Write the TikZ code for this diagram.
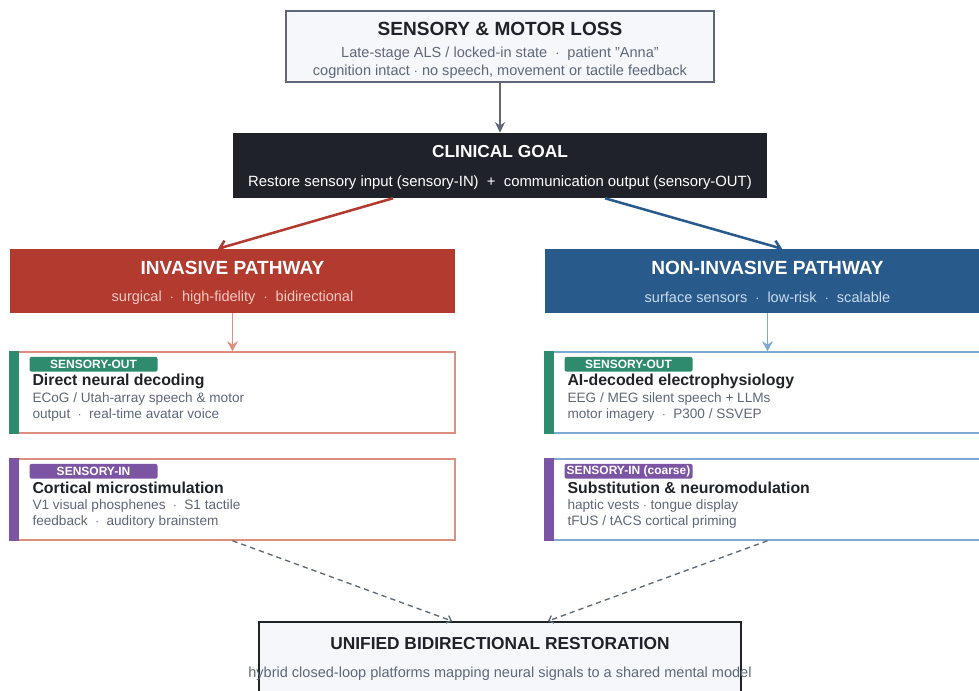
\documentclass[tikz,border=0pt]{standalone}
\usepackage{fontspec}
\setmainfont{Liberation Sans}[Ligatures=ResetAll]
\usetikzlibrary{arrows.meta,positioning}

\definecolor{ink}{HTML}{1F2329}
\definecolor{slate}{HTML}{5E6878}
\definecolor{paper}{HTML}{F5F7FA}
\definecolor{invred}{HTML}{B23A2F}
\definecolor{invpale}{HTML}{DE8E7E}
\definecolor{invtext}{HTML}{F3C9C3}
\definecolor{nonblue}{HTML}{285A8B}
\definecolor{nonpale}{HTML}{7FA8D2}
\definecolor{nontext}{HTML}{C9DCF0}
\definecolor{outgreen}{HTML}{2E8B6D}
\definecolor{inpurple}{HTML}{7B55A3}

\tikzset{
  panel/.style={draw=#1, line width=1.5pt, inner sep=0pt},
  pathbox/.style={fill=#1, draw=none, inner sep=0pt,
    minimum width=333.75pt, minimum height=48pt},
  card/.style={draw=#1, fill=white, line width=1.1pt, inner sep=0pt,
    minimum width=333.75pt, minimum height=60.75pt},
  badge/.style={fill=#1, rounded corners=1.5pt, inner sep=0pt,
    minimum width=96pt, minimum height=11pt, anchor=west,
    text=white, font=\bfseries\fontsize{9}{10}\selectfont},
  bigtitle/.style={font=\bfseries\fontsize{14.3}{16}\selectfont, inner sep=0pt},
  midtitle/.style={font=\bfseries\fontsize{13}{15}\selectfont, inner sep=0pt},
  subline/.style={font=\fontsize{10.9}{12}\selectfont, inner sep=0pt},
  cardtitle/.style={font=\bfseries\fontsize{11.9}{13}\selectfont, inner sep=0pt,
    anchor=west, text=ink},
  carddesc/.style={font=\fontsize{10.2}{12}\selectfont, inner sep=0pt,
    anchor=west, align=left, text=slate},
  flow/.style={line width=1.9pt, -{Stealth[length=8pt,width=7.5pt]}},
  split/.style={line width=1.9pt, -{Straight Barb[length=5pt,width=9pt]}},
  feed/.style={line width=1.2pt, -{Stealth[length=7.5pt,width=8pt]}},
  merge/.style={line width=1pt, slate, dash pattern=on 4pt off 3pt,
    -{Straight Barb[length=3pt,width=6pt]}}
}

\begin{document}
\begin{tikzpicture}[x=0.75pt,y=-0.75pt]
\useasboundingbox (0,0) rectangle (979,690);
\clip (0,0) rectangle (979,690);

% Top: the patient
\node[panel=slate, fill=paper, minimum width=321pt, minimum height=53.25pt]
  (loss) at (500,46.5) {};
\node[bigtitle, text=ink] (losstitle) at ([yshift=-14.5pt]loss.north)
  {SENSORY \& MOTOR LOSS};
\node[subline, text=slate] (losssub1) at ([yshift=-33pt]loss.north)
  {Late-stage ALS / locked-in state ~$\cdot$~ patient "Anna"};
\node[subline, text=slate] (losssub2) at ([yshift=-46.5pt]loss.north)
  {cognition intact $\cdot$ no speech, movement or tactile feedback};

% Goal
\node[fill=ink, draw=none, inner sep=0pt, minimum width=400.5pt,
  minimum height=48.75pt] (goal) at (500,165.5) {};
\node[midtitle, text=white] (goaltitle) at ([yshift=-14.25pt]goal.north)
  {CLINICAL GOAL};
\node[font=\fontsize{11.15}{13}\selectfont, inner sep=0pt, text=white]
  (goalsub) at ([yshift=-37.5pt]goal.north)
  {Restore sensory input (sensory-IN) ~+~ communication output (sensory-OUT)};

\draw[flow, slate] (loss.south) -- (goal.north);

% Two pathways
\node[pathbox=invred] (inv) at (232.5,281) {};
\node[bigtitle, text=white] (invtitle) at ([yshift=-14.75pt]inv.north)
  {INVASIVE PATHWAY};
\node[subline, text=invtext] (invsub) at ([yshift=-36.75pt]inv.north)
  {surgical ~$\cdot$~ high-fidelity ~$\cdot$~ bidirectional};

\node[pathbox=nonblue] (non) at (767.5,281) {};
\node[bigtitle, text=white] (nontitle) at ([yshift=-14.75pt]non.north)
  {NON-INVASIVE PATHWAY};
\node[subline, text=nontext] (nonsub) at ([yshift=-36.75pt]non.north)
  {surface sensors ~$\cdot$~ low-risk ~$\cdot$~ scalable};

\draw[split, invred] ([xshift=-80.25pt]goal.south) -- ([xshift=-10.9pt]inv.north);
\draw[split, nonblue] ([xshift=78.75pt]goal.south) -- ([xshift=10.9pt]non.north);

% Invasive cards
\node[card=invpale] (invout) at (232.5,392.5) {};
\fill[outgreen] (invout.north west) rectangle ([xshift=7.5pt]invout.south west);
\node[badge=outgreen] (invoutbadge) at ([xshift=15pt,yshift=-9.75pt]invout.north west)
  {SENSORY-OUT};
\node[cardtitle] (invouttitle) at ([xshift=17.25pt,yshift=-22.5pt]invout.north west)
  {Direct neural decoding};
\node[carddesc] (invoutdesc) at ([xshift=17.25pt,yshift=-41.75pt]invout.north west)
  {ECoG / Utah-array speech \& motor\\output ~$\cdot$~ real-time avatar voice};

\node[card=invpale] (invin) at (232.5,499.5) {};
\fill[inpurple] (invin.north west) rectangle ([xshift=7.5pt]invin.south west);
\node[badge=inpurple] (invinbadge) at ([xshift=15pt,yshift=-9.75pt]invin.north west)
  {SENSORY-IN};
\node[cardtitle] (invintitle) at ([xshift=17.25pt,yshift=-22.5pt]invin.north west)
  {Cortical microstimulation};
\node[carddesc] (invindesc) at ([xshift=17.25pt,yshift=-41.75pt]invin.north west)
  {V1 visual phosphenes ~$\cdot$~ S1 tactile\\feedback ~$\cdot$~ auditory brainstem};

% Non-invasive cards
\node[card=nonpale] (nonout) at (767.5,392.5) {};
\fill[outgreen] (nonout.north west) rectangle ([xshift=7.5pt]nonout.south west);
\node[badge=outgreen] (nonoutbadge) at ([xshift=15pt,yshift=-9.75pt]nonout.north west)
  {SENSORY-OUT};
\node[cardtitle] (nonouttitle) at ([xshift=17.25pt,yshift=-22.5pt]nonout.north west)
  {AI-decoded electrophysiology};
\node[carddesc] (nonoutdesc) at ([xshift=17.25pt,yshift=-41.75pt]nonout.north west)
  {EEG / MEG silent speech + LLMs\\motor imagery ~$\cdot$~ P300 / SSVEP};

\node[card=nonpale] (nonin) at (767.5,499.5) {};
\fill[inpurple] (nonin.north west) rectangle ([xshift=7.5pt]nonin.south west);
\node[badge=inpurple] (noninbadge) at ([xshift=15pt,yshift=-9.75pt]nonin.north west)
  {SENSORY-IN (coarse)};
\node[cardtitle] (nonintitle) at ([xshift=17.25pt,yshift=-22.5pt]nonin.north west)
  {Substitution \& neuromodulation};
\node[carddesc] (nonindesc) at ([xshift=17.25pt,yshift=-41.75pt]nonin.north west)
  {haptic vests $\cdot$ tongue display\\tFUS / tACS cortical priming};

\draw[feed, invpale] (inv.south) -- (invout.north);
\draw[feed, nonpale] (non.south) -- (nonout.north);

% Bottom: merged outcome
\node[panel=ink, fill=paper, minimum width=361.5pt, minimum height=60pt]
  (unified) at (500,662) {};
\node[midtitle, text=ink] (unifiedtitle) at ([yshift=-17pt]unified.north)
  {UNIFIED BIDIRECTIONAL RESTORATION};
\node[subline, text=slate] (unifiedsub) at ([yshift=-39.5pt]unified.north)
  {hybrid closed-loop platforms mapping neural signals to a shared mental model};

\draw[merge] (invin.south) -- ([xshift=-36pt]unified.north);
\draw[merge] (nonin.south) -- ([xshift=36pt]unified.north);

\end{tikzpicture}
\end{document}
